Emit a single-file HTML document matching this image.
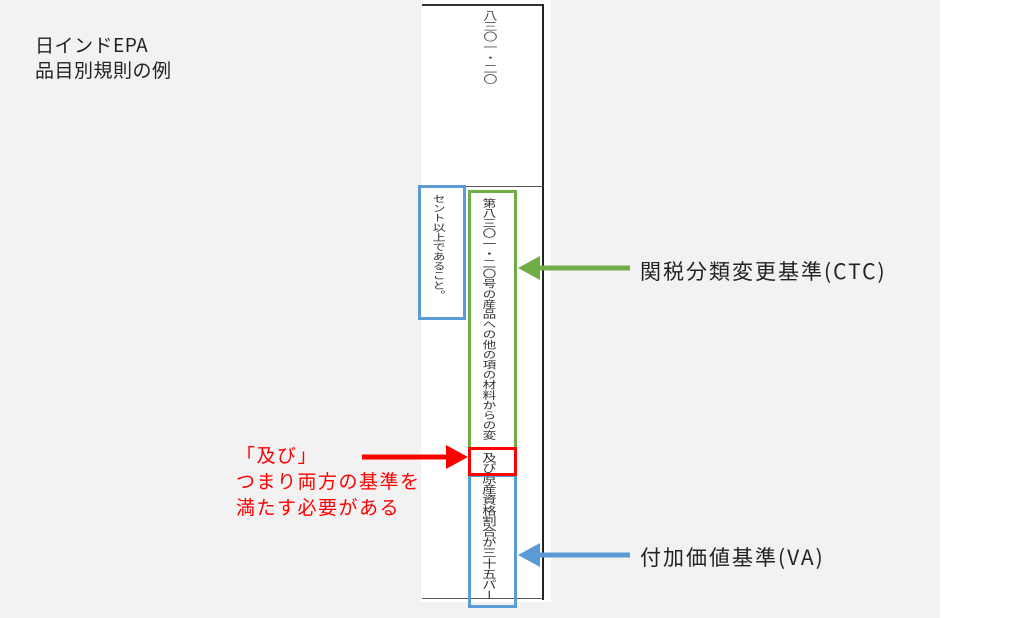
<!DOCTYPE html>
<html><head><meta charset="utf-8"><style>
body{margin:0;width:1024px;height:618px;position:relative;background:#fff;overflow:hidden;font-family:"Liberation Sans","Noto Sans CJK JP",sans-serif}
.bg{position:absolute;left:0;top:0;width:940px;height:618px;background:#f2f2f2}
.doc{position:absolute;left:421px;top:0;width:130px;height:602px;background:#fff}
.a{position:absolute}
.v{position:absolute;writing-mode:vertical-rl;font-size:10.6px;color:#333;line-height:11px;font-family:"Noto Sans CJK JP",sans-serif;transform-origin:top left;transform:scaleX(1.35);white-space:nowrap}
.lbl{position:absolute;font-size:21px;color:#222;white-space:nowrap;font-family:"Noto Sans CJK JP",sans-serif}
</style></head><body>
<div class="bg"></div>
<div class="doc"></div>
<div class="a" style="left:422px;top:4px;width:121px;height:2px;background:#333"></div>
<div class="a" style="left:542px;top:4px;width:2px;height:596px;background:#222"></div>
<div class="a" style="left:422px;top:186px;width:121px;height:1px;background:#555"></div>
<div class="a" style="left:422px;top:598px;width:121px;height:1px;background:#555"></div>

<div class="v" style="left:483px;top:10px;color:#555">八三〇一・二〇</div>
<div class="v" style="left:431px;top:194px;font-size:9.6px">セント以上であること。</div>
<div class="v" style="left:482px;top:198px;font-size:10.1px">第八三〇一・二〇号の産品への他の項の材料からの変</div>
<div class="v" style="left:482px;top:452px">及び原産資格割合が三十五パー</div>

<div class="a" style="left:418px;top:185px;width:42px;height:129px;border:3px solid #5b9bd5"></div>
<div class="a" style="left:468px;top:190px;width:43px;height:254px;border:3px solid #70ad47"></div>
<div class="a" style="left:468px;top:474px;width:43px;height:128px;border:3px solid #5b9bd5"></div>
<div class="a" style="left:468px;top:447px;width:43px;height:23px;border:3px solid #ff0000"></div>

<svg class="a" style="left:0;top:0" width="1024" height="618">
<line x1="630" y1="268" x2="536" y2="268" stroke="#70ad47" stroke-width="5"/>
<polygon points="518,268 540,256 540,280" fill="#70ad47"/>
<line x1="630" y1="555" x2="536" y2="555" stroke="#5b9bd5" stroke-width="5"/>
<polygon points="518,555 540,543 540,567" fill="#5b9bd5"/>
<line x1="362" y1="457" x2="450" y2="457" stroke="#ff0000" stroke-width="5"/>
<polygon points="468,457 446,445 446,469" fill="#ff0000"/>
</svg>

<div class="lbl" style="left:35px;top:32px;font-size:19px;line-height:25px;letter-spacing:0.5px">日インドEPA<br>品目別規則の例</div>
<div class="lbl" style="left:640px;top:256px;letter-spacing:2px">関税分類変更基準(CTC)</div>
<div class="lbl" style="left:640px;top:542px;letter-spacing:2px">付加価値基準(VA)</div>
<div class="lbl" style="left:236px;top:442px;color:#ff0000;font-size:19px;line-height:26px;letter-spacing:1.5px">「及び」<br>つまり両方の基準を<br>満たす必要がある</div>
</body></html>
